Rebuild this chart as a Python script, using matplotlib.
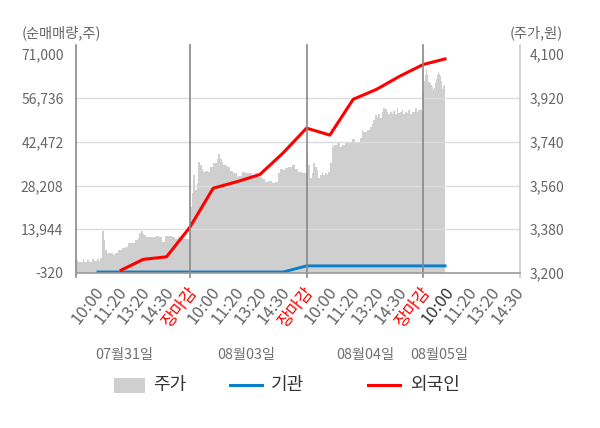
import numpy as np
import matplotlib
matplotlib.use("Agg")
import matplotlib.pyplot as plt
import matplotlib.transforms as mtransforms
from matplotlib.patches import Rectangle
from matplotlib.lines import Line2D

plt.rcParams['font.family'] = ['Noto Sans CJK KR', 'DejaVu Sans']

# ---- data ----
tick_labels = ["10:00", "11:20", "13:20", "14:30", "장마감",
               "10:00", "11:20", "13:20", "14:30", "장마감",
               "10:00", "11:20", "13:20", "14:30", "장마감",
               "10:00", "11:20", "13:20", "14:30"]
date_labels = ["07월31일", "08월03일", "08월04일", "08월05일"]
date_pos = [1.2, 6.4, 11.5, 14.7]

price_day1 = [3253, 3246, 3246, 3246, 3256, 3246, 3246, 3253, 3246, 3246, 3256, 3251, 3251,
              3256, 3251, 3260, 3373, 3336, 3295, 3283, 3283, 3281, 3281, 3274, 3283, 3283,
              3295, 3295, 3301, 3301, 3308, 3308, 3322, 3322, 3325, 3325, 3336, 3336, 3343,
              3365, 3373, 3362, 3356, 3349, 3349, 3349, 3347, 3347, 3347, 3352, 3352, 3349,
              3349, 3329, 3329, 3352, 3352, 3352, 3352, 3349, 3349, 3339, 3339, 3347, 3347,
              3339, 3339, 3340, 3340, 3340]
price_day2 = [3472, 3528, 3603, 3541, 3569, 3657, 3644, 3630, 3616, 3620, 3620, 3616, 3637,
              3637, 3651, 3651, 3671, 3689, 3671, 3657, 3644, 3644, 3637, 3637, 3620, 3620,
              3610, 3610, 3596, 3599, 3599, 3616, 3616, 3612, 3612, 3610, 3610, 3603, 3603,
              3610, 3610, 3596, 3596, 3585, 3585, 3575, 3575, 3578, 3578, 3571, 3571, 3575,
              3575, 3610, 3630, 3630, 3623, 3634, 3634, 3637, 3637, 3644, 3644, 3630, 3630,
              3616, 3616, 3610, 3610, 3610]
price_day3 = [3685, 3644, 3589, 3610, 3651, 3637, 3623, 3589, 3603, 3616, 3603, 3610, 3603,
              3616, 3651, 3719, 3726, 3726, 3733, 3733, 3719, 3726, 3726, 3733, 3733, 3733,
              3733, 3750, 3750, 3736, 3736, 3736, 3754, 3788, 3781, 3781, 3788, 3788, 3801,
              3815, 3829, 3849, 3842, 3856, 3836, 3863, 3881, 3873, 3863, 3856, 3863, 3856,
              3867, 3856, 3877, 3860, 3863, 3870, 3856, 3863, 3860, 3870, 3856, 3863, 3863,
              3877, 3863, 3870, 3870, 3870]
price_day4 = [3939, 3990, 4014, 4041, 4020, 3986, 3980, 3975, 3966, 3952, 3960, 3980, 4000,
              4015, 4027, 4020, 4010, 3990, 3959, 3970, 3973]

inst_pos = list(range(0, 16))
inst_vals = [0, 0, 0, 0, 0, 0, 0, 0, 0, 2000, 2000, 2000, 2000, 2000, 2000, 2000]
foreign_pos = list(range(1, 16))
foreign_vals = [400, 4120, 4960, 14590, 27330, 29410, 31780, 38860, 46920, 44650,
                56320, 59560, 63870, 67660, 69610]

left_ticks = [-320, 13944, 28208, 42472, 56736, 71000]
right_ticks = [3200, 3380, 3560, 3740, 3920, 4100]

legend_labels = ["주가", "기관", "외국인"]

C_PRICE = '#cfcfcf'
C_INST = '#0a7fcc'
C_FOR = '#ff0000'

# ---- figure ----
fig = plt.figure(figsize=(6.0, 4.28), dpi=100)
ax = fig.add_axes([76/600, 1-273/428, 444/600, 221/428])
ax2 = ax.twinx()
ax.set_zorder(ax2.get_zorder() + 1)
ax.patch.set_visible(False)
ax2.set_facecolor('#f4f4f4')

xlim = (-0.88, 18.15)
spans = [(-0.88, 4.0), (4.0, 9.0), (9.0, 14.0), (14.0, 14.95)]
for (a, b), pr in zip(spans, [price_day1, price_day2, price_day3, price_day4]):
    xs = np.linspace(a, b, len(pr) + 1)
    ys = list(pr) + [pr[-1]]
    ax2.fill_between(xs, 3200, ys, step='post', color=C_PRICE, linewidth=0, zorder=1)
ax2.set_ylim(3200, 4109.4)
ax2.set_yticks(right_ticks)
ax2.set_yticklabels([f"{v:,}" for v in right_ticks])
for v in right_ticks[1:-1]:
    ax2.axhline(v, color='#dcdcdc', lw=1, zorder=2)

ax.set_ylim(-320, 71745)
ax.set_yticks(left_ticks)
ax.set_yticklabels([f"{v:,}" for v in left_ticks])
ax.plot(inst_pos, inst_vals, color=C_INST, lw=2.1, zorder=4, solid_capstyle='butt')
ax.plot(foreign_pos, foreign_vals, color=C_FOR, lw=2.2, zorder=5, solid_capstyle='butt')

ax.set_xlim(*xlim)
ax2.set_xlim(*xlim)
ax.set_xticks([])
ax.tick_params(axis='y', length=0, labelsize=10, labelcolor='#666666', pad=9)
ax2.tick_params(axis='y', length=0, labelsize=10, labelcolor='#666666', pad=7)

for s in ['top', 'right', 'bottom', 'left']:
    ax.spines[s].set_visible(False)
    ax2.spines[s].set_visible(False)

trans = ax.get_xaxis_transform()
lab_trans = trans + mtransforms.ScaledTranslation(4/100, -16/100, fig.dpi_scale_trans)
for i, lab in enumerate(tick_labels):
    if lab == "장마감":
        col = C_FOR
    elif i == 15:
        col = '#333333'
    else:
        col = '#666666'
    ax.text(i, 0, lab, transform=lab_trans, rotation=52, rotation_mode='anchor',
            ha='right', va='center', fontsize=12, color=col)

ax.plot([xlim[0], xlim[0]], [-0.02, 1.03], transform=trans, color='#888888', lw=1.2, clip_on=False, zorder=6)
ax.plot([xlim[1], xlim[1]], [-0.02, 1.03], transform=trans, color='#cccccc', lw=1.2, clip_on=False, zorder=6)
for p in [4, 9, 14]:
    ax.plot([p, p], [-0.02, 1.03], transform=trans, color='#888888', lw=1.2, clip_on=False, zorder=6)
ax.plot([xlim[0], xlim[1]], [0, 0], transform=trans, color='#999999', lw=1.2, clip_on=False, zorder=6)

for p, d in zip(date_pos, date_labels):
    ax.text(p, -0.37, d, transform=trans, ha='center', va='center', fontsize=10.3, color='#707070')

fig.text(22/600, 1-33/428, "(순매매량,주)", ha='left', va='center', fontsize=10.3, color='#666666')
fig.text(563/600, 1-33/428, "(주가,원)", ha='right', va='center', fontsize=10.3, color='#666666')

# legend (drawn manually in figure coordinates)
ly = 1 - 385/428
fig.patches.append(Rectangle((114/600, 1-393/428), 31/600, 15/428, transform=fig.transFigure,
                             facecolor=C_PRICE, edgecolor='none'))
fig.add_artist(Line2D([230/600, 262/600], [ly, ly], transform=fig.transFigure, color=C_INST, lw=2.2))
fig.add_artist(Line2D([368/600, 400/600], [ly, ly], transform=fig.transFigure, color=C_FOR, lw=2.2))
for xp, lab in zip([153, 271, 410], legend_labels):
    fig.text(xp/600, ly, lab, ha='left', va='center', fontsize=13, color='#333333')

fig.savefig("out.png", dpi=100)
